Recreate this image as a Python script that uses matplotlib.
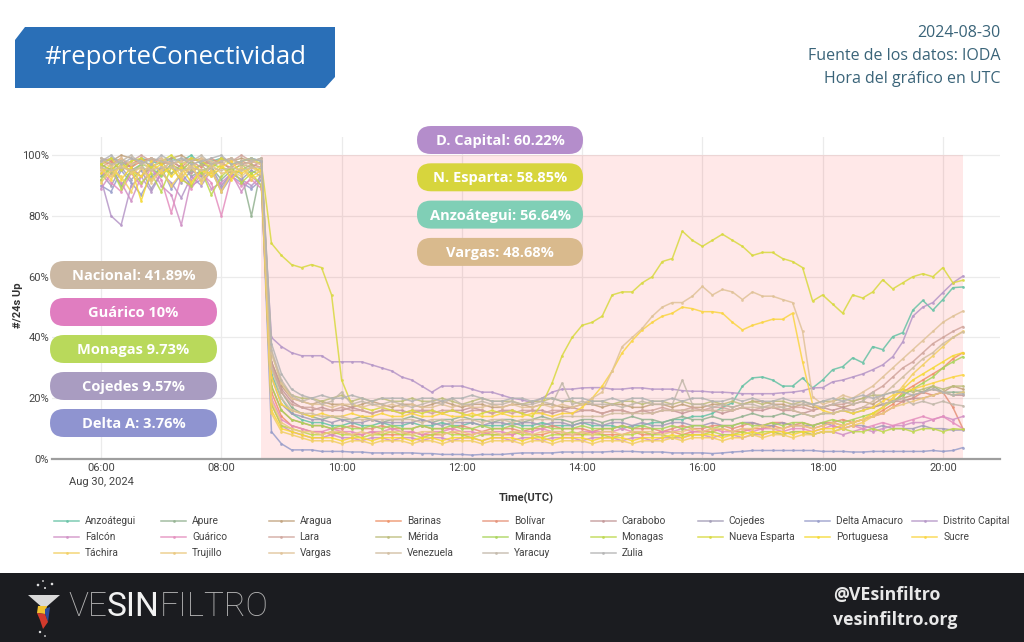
import numpy as np
import pandas as pd
import matplotlib
matplotlib.use('Agg')
import matplotlib.pyplot as plt
from matplotlib.colors import LinearSegmentedColormap
from matplotlib.patches import FancyBboxPatch, Polygon, Rectangle, Circle

plt.rcParams['font.family'] = ['Open Sans', 'DejaVu Sans']

# ---------------- data ----------------
times = pd.date_range('2024-08-30 06:00', '2024-08-30 20:20', freq='10min')  # 87 samples
outage_start = '2024-08-30 08:40'
outage_end = '2024-08-30 20:20'

region_names = ['Anzoátegui', 'Apure', 'Aragua', 'Barinas', 'Bolívar', 'Carabobo', 'Cojedes',
                'Delta Amacuro', 'Distrito Capital', 'Falcón', 'Guárico', 'Lara', 'Mérida',
                'Miranda', 'Monagas', 'Nueva Esparta', 'Portuguesa', 'Sucre', 'Táchira',
                'Trujillo', 'Vargas', 'Venezuela', 'Yaracuy', 'Zulia']

anzoategui = [
    97, 99, 98, 96, 99, 98, 97, 99, 98, 100,
    97, 98, 99, 97, 98, 99, 98, 28, 20, 15,
    13, 12, 12, 11, 11, 12, 11, 11, 12, 11,
    11, 12, 11, 11, 12, 11, 11, 12, 11, 11,
    11, 12, 11, 11, 12, 11, 11, 11, 12, 11,
    11, 11, 10, 11, 11, 12, 12, 13, 13, 14,
    14, 15, 17, 18.5, 24, 26.7, 27, 26, 24, 24,
    26.7, 23.4, 26, 29.4, 30.4, 33.3, 31.7, 37, 36, 40.3,
    41.6, 49, 52.2, 49, 52.5, 56.4, 56.64]
apure = [
    93, 96, 90, 95, 97, 92, 96, 94, 97, 93,
    95, 96, 92, 95, 94, 80, 96, 30, 22, 17,
    15, 14, 13, 14, 13, 13, 14, 13, 12, 13,
    13, 14, 13, 12, 13, 13, 14, 13, 13, 12,
    13, 13, 12, 13, 14, 13, 13, 12, 13, 13,
    12, 13, 13, 14, 13, 13, 12, 13, 14, 13,
    13, 14, 13, 13, 14, 15, 14, 14, 15, 14,
    15, 14, 15, 15, 16, 15, 16, 17, 18, 19,
    21, 23, 22, 24, 22, 22, 22]
aragua = [
    99, 98, 100, 99, 97, 99, 98, 99, 100, 98,
    99, 97, 99, 98, 99, 98, 99, 32, 24, 20,
    19, 18, 19, 18, 18, 17, 18, 19, 18, 17,
    18, 18, 17, 18, 19, 18, 17, 18, 18, 17,
    17, 18, 18, 17, 18, 18, 17, 17, 18, 18,
    17, 18, 18, 17, 17, 18, 18, 17, 18, 17,
    17, 18, 18, 17, 18, 19, 19, 18, 18, 17,
    18, 17, 17, 18, 17, 18, 19, 18, 20, 19,
    20, 21, 22, 23, 22, 24, 23]
barinas = [
    98, 97, 99, 96, 98, 99, 97, 98, 96, 99,
    98, 97, 98, 99, 97, 98, 97, 22, 14, 11,
    10, 9, 9, 8, 9, 8, 8, 9, 8, 8,
    8, 9, 8, 8, 8, 9, 8, 8, 9, 8,
    8, 8, 9, 8, 8, 9, 8, 8, 8, 9,
    8, 8, 8, 9, 8, 8, 9, 9, 8, 9,
    9, 9, 10, 9, 9, 10, 10, 11, 10, 11,
    11, 10, 11, 12, 11, 12, 13, 14, 16, 18,
    22, 24, 26, 28, 30, 33, 35]
bolivar = [
    96, 98, 95, 97, 99, 96, 98, 97, 95, 98,
    96, 99, 97, 96, 98, 97, 96, 24, 16, 13,
    12, 11, 11, 10, 10, 11, 10, 10, 11, 10,
    10, 10, 11, 10, 10, 10, 11, 10, 9, 10,
    10, 10, 9, 10, 10, 11, 10, 10, 10, 9,
    10, 10, 11, 10, 10, 10, 9, 10, 11, 10,
    10, 11, 11, 10, 11, 12, 11, 12, 12, 11,
    12, 11, 12, 12, 13, 12, 13, 14, 15, 17,
    19, 20, 22, 21, 22, 17, 10]
carabobo = [
    97, 95, 98, 96, 93, 97, 95, 98, 96, 94,
    97, 96, 98, 95, 97, 96, 98, 32, 23, 19,
    17, 16, 17, 16, 16, 17, 16, 15, 16, 16,
    16, 15, 16, 16, 15, 16, 16, 17, 16, 15,
    16, 16, 15, 16, 16, 15, 16, 17, 16, 16,
    15, 16, 16, 15, 16, 15, 16, 16, 15, 16,
    16, 16, 15, 16, 17, 16, 16, 17, 16, 16,
    15, 16, 17, 16, 17, 16, 17, 17, 18, 19,
    19, 20, 20, 21, 22, 21, 21]
cojedes = [
    94, 90, 96, 92, 95, 89, 94, 97, 91, 95,
    93, 96, 90, 94, 92, 95, 93, 27, 18, 15,
    14, 13, 13, 12, 13, 12, 12, 13, 12, 12,
    12, 12, 13, 12, 11, 12, 12, 12, 11, 12,
    12, 11, 12, 12, 11, 12, 12, 11, 12, 12,
    11, 12, 12, 11, 12, 11, 11, 12, 12, 11,
    11, 12, 11, 11, 12, 12, 11, 11, 12, 11,
    11, 11, 12, 11, 10, 11, 11, 10, 11, 10,
    10, 10, 11, 10, 10, 9.5, 9.57]
delta_amacuro = [
    90, 88, 95, 91, 87, 93, 96, 89, 94, 90,
    92, 95, 88, 93, 91, 89, 92, 9, 5, 3,
    3, 3, 2.5, 2.5, 2.5, 2.3, 2.3, 2, 2, 2,
    2, 2, 1.8, 1.8, 1.5, 1.5, 1.5, 1.3, 1.5, 1.5,
    1.5, 1.8, 2, 2, 2, 2, 2.3, 2.3, 2.3, 2.3,
    2.3, 2.5, 2.5, 2.5, 2.3, 2.3, 2.3, 2, 2, 2,
    2, 1.8, 2, 2.3, 2.5, 2.8, 2.8, 2.8, 2.8, 2.8,
    2.8, 2.8, 2.5, 2.5, 2.5, 2.3, 2.3, 2.5, 2.5, 2.5,
    2.5, 2.5, 2.5, 2.8, 2.5, 2.8, 3.76]
distrito_capital = [
    92, 80, 77, 90, 93, 88, 94, 91, 86, 93,
    90, 95, 89, 94, 92, 90, 93, 40, 37, 35,
    34, 34, 34, 32, 32, 32, 32, 31, 30, 29,
    27, 26, 24, 22, 24, 24, 24, 23, 22, 22,
    21, 20, 19.5, 18.5, 20, 22, 23, 23, 23.4, 23.5,
    23.5, 23, 23, 23.4, 23.4, 23, 23, 23, 22.5, 22.3,
    22.3, 22, 22, 21.8, 21.5, 21.5, 21.5, 21.5, 21.8, 22,
    22.5, 23.4, 23.5, 25.4, 26, 27, 28, 29.4, 31, 33.7,
    38.6, 47, 50, 51.5, 54.8, 58, 60.22]
falcon = [
    89, 94, 91, 85, 93, 96, 90, 87, 77, 92,
    95, 89, 91, 94, 88, 93, 90, 18, 11, 9,
    8, 7, 7, 8, 7, 7, 6, 7, 7, 6,
    7, 7, 6, 7, 7, 6, 7, 7, 6, 7,
    7, 6, 7, 7, 6, 7, 7, 7, 6, 7,
    7, 7, 6, 7, 7, 6, 7, 7, 7, 8,
    8, 7, 8, 8, 7, 8, 8, 9, 8, 9,
    9, 8, 9, 9, 8, 9, 10, 9, 10, 11,
    11, 12, 12, 13, 14, 13, 14]
guarico = [
    95, 91, 88, 94, 90, 96, 92, 81, 93, 89,
    94, 91, 80, 93, 90, 92, 89, 20, 13, 11,
    10, 9, 9, 10, 9, 9, 8, 9, 9, 10,
    9, 9, 8, 9, 9, 10, 9, 9, 8, 9,
    9, 8, 9, 9, 10, 9, 9, 8, 9, 9,
    9, 9, 10, 9, 9, 8, 9, 9, 10, 9,
    9, 10, 9, 9, 10, 9, 10, 10, 9, 10,
    10, 9, 10, 11, 10, 11, 10, 11, 12, 11,
    12, 13, 14, 13, 14, 12, 10]
lara = [
    98, 99, 97, 98, 100, 98, 99, 97, 98, 99,
    98, 97, 99, 98, 100, 98, 97, 31, 22, 18,
    17, 17, 16, 16, 17, 16, 16, 15, 16, 16,
    15, 16, 16, 15, 16, 16, 15, 16, 16, 15,
    16, 15, 16, 16, 15, 16, 16, 15, 16, 16,
    15, 16, 16, 15, 16, 16, 17, 16, 16, 17,
    16, 17, 17, 16, 17, 16, 17, 17, 16, 17,
    17, 16, 17, 18, 18, 19, 20, 22, 24, 27,
    30, 32, 35, 38, 40, 42, 43.6]
merida = [
    96, 94, 97, 95, 93, 96, 98, 94, 96, 95,
    97, 93, 96, 94, 95, 97, 94, 35, 25, 21,
    20, 20, 19, 20, 21, 19, 20, 19, 20, 19,
    19, 20, 19, 19, 20, 19, 18, 19, 20, 19,
    19, 19, 18, 19, 19, 20, 19, 19, 18, 19,
    19, 18, 19, 19, 18, 19, 19, 18, 19, 18,
    18, 19, 18, 19, 18, 19, 18, 19, 19, 18,
    19, 18, 19, 19, 20, 19, 20, 21, 21, 22,
    23, 22, 23, 24, 23, 24, 24]
miranda = [
    97, 95, 98, 94, 97, 96, 93, 97, 95, 98,
    94, 97, 96, 95, 97, 94, 96, 24, 16, 13,
    12, 11, 11, 10, 11, 10, 10, 11, 10, 11,
    10, 10, 11, 10, 10, 11, 10, 10, 11, 10,
    10, 11, 10, 10, 11, 10, 10, 10, 11, 10,
    10, 10, 11, 10, 11, 10, 10, 11, 10, 11,
    11, 10, 11, 11, 12, 11, 11, 12, 11, 12,
    12, 11, 12, 13, 12, 13, 14, 15, 17, 19,
    21, 23, 25, 27, 30, 32, 33.7]
monagas = [
    92, 96, 89, 95, 91, 94, 88, 96, 92, 90,
    95, 87, 93, 96, 91, 94, 90, 18, 11, 10,
    9, 8, 8, 9, 8, 8, 7, 8, 8, 9,
    8, 8, 7, 8, 9, 8, 8, 7, 8, 8,
    8, 9, 8, 8, 7, 8, 8, 9, 8, 8,
    8, 7, 8, 8, 9, 8, 8, 7, 8, 8,
    8, 9, 8, 8, 9, 8, 9, 9, 8, 9,
    9, 8, 9, 9, 10, 9, 9, 10, 9, 10,
    10, 9, 10, 10, 9, 10, 9.73]
nueva_esparta = [
    97, 99, 95, 98, 99, 96, 98, 100, 97, 99,
    98, 96, 99, 97, 98, 99, 97, 71, 67, 64,
    63, 64, 63, 54, 26, 18, 17, 16, 17, 16,
    15, 16, 15, 16, 15, 16, 15, 14, 15, 16,
    15, 16, 15, 14, 18, 25, 34, 40, 44, 45,
    47, 54, 55, 55, 58, 60, 65, 66, 75, 72,
    70, 72, 74, 72, 70, 67, 68, 68, 66, 65,
    63, 52, 54, 51, 48, 54, 53, 55, 59, 56,
    58, 60, 61, 60, 63, 58, 58.85]
portuguesa = [
    94, 97, 92, 96, 85, 95, 97, 93, 96, 91,
    95, 94, 97, 92, 96, 93, 95, 16, 10, 9,
    8, 7, 7, 7, 6, 7, 7, 6, 7, 7,
    7, 6, 7, 7, 6, 7, 7, 7, 6, 7,
    7, 7, 6, 7, 7, 6, 7, 7, 7, 6,
    7, 7, 7, 6, 7, 7, 7, 8, 7, 8,
    8, 8, 7, 8, 8, 9, 8, 9, 9, 8,
    9, 9, 10, 10, 11, 12, 13, 15, 17, 20,
    23, 26, 28, 30, 32, 34, 35]
sucre = [
    96, 92, 97, 95, 93, 98, 94, 96, 92, 97,
    95, 93, 96, 98, 94, 96, 95, 27, 18, 16,
    15, 14, 15, 14, 14, 15, 14, 14, 15, 14,
    14, 15, 14, 14, 15, 14, 14, 15, 14, 14,
    15, 14, 14, 15, 15, 14, 15, 15, 17, 20,
    24, 29, 35, 39, 42.5, 45, 47, 48, 50, 49.5,
    48.5, 48.5, 48, 45, 42.5, 44, 45, 46, 46, 48,
    32, 18, 16, 15, 16, 15, 16, 17, 19, 21,
    22, 23, 24, 25, 26, 27, 27.7]
tachira = [
    91, 95, 93, 88, 96, 92, 95, 90, 94, 97,
    91, 95, 88, 94, 96, 92, 94, 15, 9, 8,
    7, 6, 6, 6, 5, 6, 6, 5, 6, 6,
    6, 5, 6, 6, 5, 6, 6, 6, 5, 6,
    6, 6, 5, 6, 6, 5, 6, 6, 6, 5,
    6, 6, 6, 5, 6, 6, 6, 7, 6, 7,
    7, 7, 6, 7, 7, 8, 7, 8, 8, 7,
    8, 8, 9, 9, 10, 11, 12, 14, 17, 20,
    24, 28, 31, 34, 37, 40, 42]
trujillo = [
    95, 93, 97, 94, 96, 91, 95, 98, 93, 96,
    92, 97, 94, 95, 93, 96, 94, 19, 12, 10,
    9, 9, 8, 9, 9, 8, 9, 8, 9, 9,
    9, 8, 9, 9, 8, 9, 9, 8, 9, 9,
    8, 9, 9, 8, 9, 9, 9, 8, 9, 8,
    9, 9, 8, 9, 9, 9, 8, 9, 9, 10,
    9, 10, 10, 9, 10, 10, 11, 10, 10, 11,
    11, 10, 11, 12, 11, 12, 13, 14, 15, 17,
    18, 19, 20, 21, 22, 21, 22]
vargas = [
    98, 96, 99, 97, 98, 95, 99, 97, 98, 96,
    99, 98, 97, 99, 96, 98, 97, 35, 25, 20,
    19, 18, 18, 17, 18, 18, 17, 18, 17, 18,
    17, 18, 17, 17, 18, 17, 18, 17, 17, 18,
    17, 18, 17, 17, 18, 17, 18, 17, 18, 20,
    22, 29, 37, 40, 43, 47, 50, 51.5, 51.5, 53.6,
    56.8, 54, 55.8, 55, 52.5, 55, 53.6, 53.6, 52.5, 51.5,
    42, 20.5, 18, 19, 21, 20, 22, 24, 27, 30,
    33, 36, 39, 42, 45, 47, 48.68]
venezuela = [
    96, 95, 96, 95, 96, 95, 96, 96, 95, 96,
    95, 96, 95, 96, 95, 96, 96, 30, 20, 16,
    15, 15, 14, 14, 14, 13, 13, 13, 13, 13,
    13, 13, 12, 13, 13, 12, 13, 13, 12, 13,
    13, 12, 13, 13, 13, 13, 14, 14, 14, 14,
    14, 15, 15, 15, 15, 15, 16, 16, 16, 16,
    16, 16, 16, 16, 17, 17, 17, 17, 17, 16,
    15, 14, 15, 15, 16, 16, 17, 19, 21, 24,
    27, 30, 33, 35, 38, 40, 41.89]
yaracuy = [
    99, 97, 98, 100, 97, 99, 98, 97, 99, 98,
    100, 97, 98, 99, 97, 98, 99, 36, 26, 21,
    19, 20, 18, 19, 22, 18, 19, 18, 18, 19,
    18, 17, 18, 19, 18, 20, 18, 18, 19, 18,
    18, 19, 18, 18, 19, 18, 25, 18, 19, 18,
    18, 18, 17, 18, 19, 18, 18, 18, 26, 18,
    18, 17, 18, 17, 18, 18, 17, 18, 17, 18,
    18, 18, 17, 18, 19, 18, 19, 22, 18, 19,
    20, 18, 19, 18, 19, 18, 17.5]
zulia = [
    98, 100, 97, 99, 98, 97, 100, 98, 99, 97,
    98, 99, 100, 97, 98, 99, 98, 38, 28, 23,
    21, 20, 21, 20, 20, 21, 20, 19, 20, 20,
    20, 19, 20, 20, 19, 20, 20, 21, 20, 19,
    19, 20, 20, 19, 20, 20, 19, 20, 20, 19,
    19, 20, 19, 20, 20, 19, 19, 20, 19, 20,
    20, 19, 19, 20, 19, 20, 19, 19, 20, 19,
    19, 18, 19, 20, 19, 20, 21, 20, 21, 22,
    22, 21, 22, 23, 22, 21, 21.5]

series_values = [anzoategui, apure, aragua, barinas, bolivar, carabobo, cojedes,
                 delta_amacuro, distrito_capital, falcon, guarico, lara, merida,
                 miranda, monagas, nueva_esparta, portuguesa, sucre, tachira,
                 trujillo, vargas, venezuela, yaracuy, zulia]

left_badges = ['Nacional: 41.89%', 'Guárico 10%', 'Monagas 9.73%', 'Cojedes 9.57%', 'Delta A: 3.76%']
left_badge_colors = ['#ccb9a4', '#e07dc0', '#b9d95b', '#a99cc1', '#8f94d0']
center_badges = ['D. Capital: 60.22%', 'N. Esparta: 58.85%', 'Anzoátegui: 56.64%', 'Vargas: 48.68%']
center_badge_colors = ['#b48dcb', '#d7d53d', '#80cfb6', '#d9ba8d']

y_ticks = [0, 20, 40, 60, 80, 100]
x_ticks = pd.date_range('2024-08-30 06:00', '2024-08-30 20:00', freq='2h')

# ---------------- colours (Set2 interpolated) ----------------
set2 = ['#66c2a5', '#fc8d62', '#8da0cb', '#e78ac3', '#a6d854', '#ffd92f', '#e5c494', '#b3b3b3']
cmap = LinearSegmentedColormap.from_list('set2i', set2)
n = len(region_names)
colors = [cmap(k / (n - 1)) for k in range(n)]

# ---------------- figure ----------------
W, H = 1024, 642
fig = plt.figure(figsize=(W / 100, H / 100), dpi=100)
fig.patch.set_facecolor('white')

ax_l, ax_r, ax_t, ax_b = 52, 1000, 137, 459
ax = fig.add_axes([ax_l / W, 1 - ax_b / H, (ax_r - ax_l) / W, (ax_b - ax_t) / H])
ax.set_facecolor('white')

ax.fill_between(pd.to_datetime([outage_start, outage_end]), 0, 100,
                color=(1, 0, 0, 0.09), lw=0, zorder=1)

for name, vals, col in zip(region_names, series_values, colors):
    m = min(len(times), len(vals))
    ax.plot(times[:m], vals[:m], color=col, lw=1.1, alpha=0.85,
            marker='o', ms=2.0, mew=0, zorder=3, label=name)

ax.set_ylim(0, 106)
ax.set_xlim(pd.Timestamp('2024-08-30 05:11'), pd.Timestamp('2024-08-30 20:57'))
ax.set_yticks(y_ticks)
ax.set_yticklabels([f'{v}%' for v in y_ticks])
ax.set_xticks(x_ticks)
xlabels = [t.strftime('%H:%M') for t in x_ticks]
xlabels[0] = xlabels[0] + '\nAug 30, 2024'
ax.set_xticklabels(xlabels, linespacing=1.45)
ax.tick_params(axis='both', length=0, labelsize=8, labelcolor='#444444')
ax.tick_params(axis='y', pad=2)
ax.tick_params(axis='x', pad=3)
for lab in ax.get_xticklabels() + ax.get_yticklabels():
    lab.set_family(['Roboto', 'DejaVu Sans'])
ax.set_axisbelow(True)
ax.grid(True, color='#ebebeb', lw=0.9)
for s in ['top', 'right', 'left']:
    ax.spines[s].set_visible(False)
ax.spines['bottom'].set_color('#9e9e9e')
ax.spines['bottom'].set_linewidth(1.6)

# ---------------- overlay in pixel coords ----------------
ov = fig.add_axes([0, 0, 1, 1], zorder=10)
ov.set_xlim(0, W)
ov.set_ylim(H, 0)
ov.axis('off')
ov.patch.set_alpha(0)

# axis titles
ov.text(18, 305, '#/24s Up', rotation=90, ha='center', va='center', fontsize=8,
        fontweight='bold', color='#333333', family=['Roboto', 'DejaVu Sans'])
ov.text(526, 498, 'Time(UTC)', ha='center', va='center', fontsize=8,
        fontweight='bold', color='#333333', family=['Roboto', 'DejaVu Sans'])

# header banner
ov.add_patch(Polygon([(25, 27), (335, 27), (335, 77), (325, 88), (15, 88), (15, 40)],
                     closed=True, color='#2a6fb7', lw=0))
ov.text(44, 58, '#reporteConectividad', ha='left', va='center', fontsize=18.5,
        color='white')

# top-right info
info_lines = ['2024-08-30', 'Fuente de los datos: IODA', 'Hora del gráfico en UTC']
for k, txt in enumerate(info_lines):
    ov.text(1000, 33 + 23 * k, txt, ha='right', va='center', fontsize=11.5, color='#3a6479')


def badge(x0, y0, w, h, txt, col):
    ov.add_patch(FancyBboxPatch((x0, y0), w, h,
                                boxstyle=f'round,pad=0,rounding_size={h / 2}',
                                fc=col, ec='none', lw=0))
    ov.text(x0 + w / 2, y0 + h / 2 + 1, txt, ha='center', va='center', fontsize=10.5,
            fontweight='bold', color='white')


for k, (txt, col) in enumerate(zip(left_badges, left_badge_colors)):
    badge(50, 261 + 37 * k, 167, 28, txt, col)
for k, (txt, col) in enumerate(zip(center_badges, center_badge_colors)):
    badge(417, 126 + 37.3 * k, 166, 28, txt, col)

# legend
for k, (name, col) in enumerate(zip(region_names, colors)):
    r, c = divmod(k, 9)
    tx = 85 + c * 107.3
    ty = 521 + r * 16
    ov.plot([tx - 31, tx - 6], [ty, ty], color=col, lw=1.1, alpha=0.85)
    ov.plot([tx - 18.5], [ty], 'o', color=col, ms=2, mew=0, alpha=0.85)
    ov.text(tx, ty, name, ha='left', va='center', fontsize=7.3, color='#444444',
            family=['Liberation Sans Narrow', 'Roboto', 'DejaVu Sans'])

# footer
ov.add_patch(Rectangle((0, 573), W, H - 573, color='#1b1c20', lw=0))
ov.add_patch(Polygon([(28, 595), (60, 595), (44, 609)], closed=True, color='#d9d9d9', lw=0))
ov.add_patch(Polygon([(38, 606), (47, 606), (45, 614), (37, 613)], closed=True, color='#f2c230', lw=0))
ov.add_patch(Polygon([(45, 609), (50, 607), (48, 622), (45, 614)], closed=True, color='#2c4c9c', lw=0))
ov.add_patch(Polygon([(37, 613), (45, 614), (48, 622), (43, 629), (40, 620)], closed=True, color='#d33a2c', lw=0))
for (dx, dy, r) in [(38, 585, 1.3), (45, 588, 1.0), (52, 584, 1.3), (43, 581, 0.9), (40, 632, 1.2), (45, 636, 0.9)]:
    ov.add_patch(Circle((dx, dy), r, color='#e0e0e0', lw=0))

fig.canvas.draw()
renderer = fig.canvas.get_renderer()
x_cursor = 68
for part, col, wt in [('VE', '#b5b5b5', 200), ('SIN', '#f2f2f2', 'normal'), ('FILTRO', '#b5b5b5', 200)]:
    t = ov.text(x_cursor, 607, part, ha='left', va='center', fontsize=24, color=col,
                fontweight=wt, family=['Roboto', 'DejaVu Sans'])
    bb = t.get_window_extent(renderer=renderer)
    x_cursor += bb.width

ov.text(833, 595, '@VEsinfiltro', ha='left', va='center', fontsize=12.8,
        fontweight='bold', color='#e8e8e8')
ov.text(833, 620, 'vesinfiltro.org', ha='left', va='center', fontsize=12.8,
        fontweight='bold', color='#e8e8e8')

fig.savefig('out.png', dpi=100, facecolor='white')
